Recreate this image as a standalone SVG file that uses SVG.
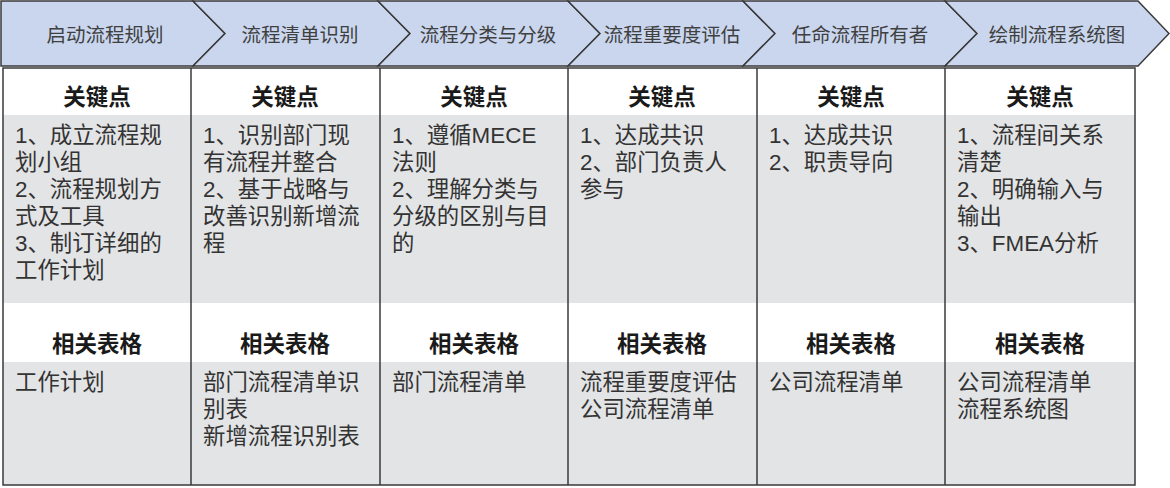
<svg xmlns="http://www.w3.org/2000/svg" width="1170" height="488" viewBox="0 0 1170 488">
<style>
.chev{fill:#c9d6ee;stroke:#3a3a3a;stroke-width:1.5;stroke-linejoin:miter}
.ht{font-family:"Liberation Sans","Noto Sans CJK SC",sans-serif;font-size:19.5px;fill:#404040;text-anchor:middle}
.hd{font-family:"Liberation Sans","Noto Sans CJK SC",sans-serif;font-size:22.5px;font-weight:bold;fill:#1a1a1a;text-anchor:middle}
.bt{font-family:"Liberation Sans","Noto Sans CJK SC",sans-serif;font-size:22.4px;fill:#333}
.gray{fill:#e3e4e6}
.white{fill:#ffffff}
.ln{stroke:#3a3a3a;stroke-width:1.5;fill:none}
</style>
<rect x="0" y="0" width="1170" height="488" fill="#ffffff"/>
<g id="phases">
<g id="p1"><polygon class="chev" points="1,1 193,1 225,33.5 193,66 1,66"/><text class="ht" x="105" y="42">启动流程规划</text></g>
<g id="p2"><polygon class="chev" points="193,1 378,1 410,33.5 378,66 193,66 225,33.5"/><text class="ht" x="300" y="42">流程清单识别</text></g>
<g id="p3"><polygon class="chev" points="378,1 568,1 600,33.5 568,66 378,66 410,33.5"/><text class="ht" x="488" y="42">流程分类与分级</text></g>
<g id="p4"><polygon class="chev" points="568,1 743,1 775,33.5 743,66 568,66 600,33.5"/><text class="ht" x="672" y="42">流程重要度评估</text></g>
<g id="p5"><polygon class="chev" points="743,1 945,1 977,33.5 945,66 743,66 775,33.5"/><text class="ht" x="860" y="42">任命流程所有者</text></g>
<g id="p6"><polygon class="chev" points="945,1 1138,1 1169,33.5 1138,66 945,66 977,33.5"/><text class="ht" x="1057" y="42">绘制流程系统图</text></g>
</g>
<g id="table">
<rect class="white" x="3" y="68" width="1132" height="47"/>
<rect class="gray" x="3" y="115" width="1132" height="188"/>
<rect class="white" x="3" y="303" width="1132" height="59"/>
<rect class="gray" x="3" y="362" width="1132" height="123"/>
</g>
<g id="col1">
<text class="hd" x="97" y="105">关键点</text>
<text class="bt" x="15" y="143">1、成立流程规</text>
<text class="bt" x="15" y="170">划小组</text>
<text class="bt" x="15" y="197">2、流程规划方</text>
<text class="bt" x="15" y="224">式及工具</text>
<text class="bt" x="15" y="251">3、制订详细的</text>
<text class="bt" x="15" y="278">工作计划</text>
<text class="hd" x="97" y="352">相关表格</text>
<text class="bt" x="15" y="390">工作计划</text>
</g>
<g id="col2">
<text class="hd" x="285" y="105">关键点</text>
<text class="bt" x="203" y="143">1、识别部门现</text>
<text class="bt" x="203" y="170">有流程并整合</text>
<text class="bt" x="203" y="197">2、基于战略与</text>
<text class="bt" x="203" y="224">改善识别新增流</text>
<text class="bt" x="203" y="251">程</text>
<text class="hd" x="285" y="352">相关表格</text>
<text class="bt" x="203" y="390">部门流程清单识</text>
<text class="bt" x="203" y="417">别表</text>
<text class="bt" x="203" y="444">新增流程识别表</text>
</g>
<g id="col3">
<text class="hd" x="474" y="105">关键点</text>
<text class="bt" x="392" y="143">1、遵循MECE</text>
<text class="bt" x="392" y="170">法则</text>
<text class="bt" x="392" y="197">2、理解分类与</text>
<text class="bt" x="392" y="224">分级的区别与目</text>
<text class="bt" x="392" y="251">的</text>
<text class="hd" x="474" y="352">相关表格</text>
<text class="bt" x="392" y="390">部门流程清单</text>
</g>
<g id="col4">
<text class="hd" x="662" y="105">关键点</text>
<text class="bt" x="580" y="143">1、达成共识</text>
<text class="bt" x="580" y="170">2、部门负责人</text>
<text class="bt" x="580" y="197">参与</text>
<text class="hd" x="662" y="352">相关表格</text>
<text class="bt" x="580" y="390">流程重要度评估</text>
<text class="bt" x="580" y="417">公司流程清单</text>
</g>
<g id="col5">
<text class="hd" x="851" y="105">关键点</text>
<text class="bt" x="769" y="143">1、达成共识</text>
<text class="bt" x="769" y="170">2、职责导向</text>
<text class="hd" x="851" y="352">相关表格</text>
<text class="bt" x="769" y="390">公司流程清单</text>
</g>
<g id="col6">
<text class="hd" x="1040" y="105">关键点</text>
<text class="bt" x="957" y="143">1、流程间关系</text>
<text class="bt" x="957" y="170">清楚</text>
<text class="bt" x="957" y="197">2、明确输入与</text>
<text class="bt" x="957" y="224">输出</text>
<text class="bt" x="957" y="251">3、FMEA分析</text>
<text class="hd" x="1040" y="352">相关表格</text>
<text class="bt" x="957" y="390">公司流程清单</text>
<text class="bt" x="957" y="417">流程系统图</text>
</g>
<g id="connectors">
<rect class="ln" x="3" y="68" width="1132" height="417"/>
<line class="ln" x1="191" y1="68" x2="191" y2="485"/>
<line class="ln" x1="380" y1="68" x2="380" y2="485"/>
<line class="ln" x1="568" y1="68" x2="568" y2="485"/>
<line class="ln" x1="757" y1="68" x2="757" y2="485"/>
<line class="ln" x1="945" y1="68" x2="945" y2="485"/>
</g>
</svg>
